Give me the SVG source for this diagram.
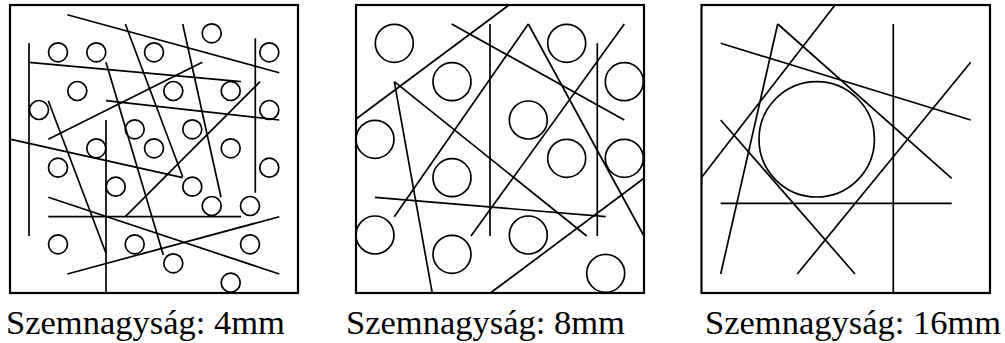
<svg xmlns="http://www.w3.org/2000/svg" width="1005" height="343" viewBox="0 0 1005 343">
<style>
.box{fill:none;stroke:#000;stroke-width:2.2}
line{stroke:#000;stroke-width:1.7;stroke-linecap:butt}
circle{fill:none;stroke:#000;stroke-width:1.7}
text{font-family:"Liberation Serif","Times New Roman",serif;font-size:34.5px;fill:#000}
</style>
<rect width="1005" height="343" fill="#fff"/>
<g id="panel1">
<rect class="box" x="10" y="5" width="288" height="288"/>
<g id="panel1-circles">
<circle cx="211.7" cy="33.3" r="9.5"/>
<circle cx="58" cy="52.3" r="9.5"/>
<circle cx="96.3" cy="52.3" r="9.5"/>
<circle cx="154" cy="52.3" r="9.5"/>
<circle cx="269.3" cy="52.3" r="9.5"/>
<circle cx="77.3" cy="91" r="9.5"/>
<circle cx="173.3" cy="91" r="9.5"/>
<circle cx="230.7" cy="91" r="9.5"/>
<circle cx="39" cy="110" r="9.5"/>
<circle cx="269.3" cy="110" r="9.5"/>
<circle cx="134.7" cy="129.3" r="9.5"/>
<circle cx="192.3" cy="129.3" r="9.5"/>
<circle cx="96.3" cy="148.3" r="9.5"/>
<circle cx="154" cy="148.3" r="9.5"/>
<circle cx="230.7" cy="148.3" r="9.5"/>
<circle cx="58" cy="167.7" r="9.5"/>
<circle cx="269.3" cy="167.7" r="9.5"/>
<circle cx="115.7" cy="186.7" r="9.5"/>
<circle cx="192.3" cy="186.7" r="9.5"/>
<circle cx="211.7" cy="206" r="9.5"/>
<circle cx="250" cy="206" r="9.5"/>
<circle cx="58" cy="244.3" r="9.5"/>
<circle cx="134.7" cy="244.3" r="9.5"/>
<circle cx="250" cy="244.3" r="9.5"/>
<circle cx="173.3" cy="263.3" r="9.5"/>
<circle cx="230.7" cy="282.7" r="9.5"/>
</g>
<g id="panel1-lines">
<line x1="67.3" y1="14.7" x2="279.3" y2="72.7"/>
<line x1="125.3" y1="24" x2="182.7" y2="176.7"/>
<line x1="182.7" y1="24" x2="221" y2="197.3"/>
<line x1="255.3" y1="38.3" x2="255.3" y2="192.7"/>
<line x1="29" y1="43.3" x2="29" y2="236"/>
<line x1="29" y1="62.3" x2="241" y2="81.7"/>
<line x1="106" y1="62.3" x2="163.3" y2="255"/>
<line x1="202.3" y1="62.3" x2="48.3" y2="139.3"/>
<line x1="260" y1="81.7" x2="125.3" y2="216.7"/>
<line x1="106" y1="100.7" x2="279.3" y2="120"/>
<line x1="48.3" y1="100.7" x2="106" y2="253.3"/>
<line x1="106" y1="120" x2="106" y2="293"/>
<line x1="11" y1="139.3" x2="182.7" y2="177.7"/>
<line x1="48.3" y1="197.3" x2="279.3" y2="274"/>
<line x1="48.3" y1="216.7" x2="241" y2="216.7"/>
<line x1="67.3" y1="274" x2="279.3" y2="216.7"/>
</g>
<text x="6" y="333.5">Szemnagyság: 4mm</text>
</g>
<g id="panel2">
<rect class="box" x="356" y="5" width="288" height="288"/>
<g id="panel2-circles">
<circle cx="394.3" cy="43.3" r="19"/>
<circle cx="566.7" cy="43.3" r="19"/>
<circle cx="452" cy="81.7" r="19"/>
<circle cx="624.3" cy="81.7" r="19"/>
<circle cx="528.3" cy="120" r="19"/>
<circle cx="375" cy="139.3" r="19"/>
<circle cx="566.7" cy="158.3" r="19"/>
<circle cx="624.3" cy="158.3" r="19"/>
<circle cx="452" cy="177.7" r="19"/>
<circle cx="375" cy="235" r="19"/>
<circle cx="528.3" cy="235" r="19"/>
<circle cx="452" cy="254.3" r="19"/>
<circle cx="605.7" cy="273.3" r="19"/>
</g>
<g id="panel2-lines">
<line x1="355.7" y1="119.3" x2="509" y2="5"/>
<line x1="451.7" y1="24" x2="624.3" y2="120"/>
<line x1="490" y1="24" x2="490" y2="236"/>
<line x1="528.3" y1="24" x2="394.3" y2="216.7"/>
<line x1="528.3" y1="24" x2="644" y2="236"/>
<line x1="624.3" y1="24" x2="471" y2="236"/>
<line x1="597.3" y1="43.3" x2="597.3" y2="236"/>
<line x1="394.3" y1="81.7" x2="432.3" y2="293.3"/>
<line x1="394.3" y1="81.7" x2="586.7" y2="236"/>
<line x1="375" y1="197.3" x2="605.7" y2="216.7"/>
<line x1="644" y1="178.3" x2="490" y2="293.3"/>
</g>
<text x="346" y="333.5">Szemnagyság: 8mm</text>
</g>
<g id="panel3">
<rect class="box" x="701.5" y="5" width="288.5" height="288"/>
<circle cx="816.7" cy="139.3" r="57.7"/>
<g id="panel3-lines">
<line x1="835" y1="5" x2="701.3" y2="177.7"/>
<line x1="777.7" y1="24" x2="720.7" y2="274"/>
<line x1="777.7" y1="24" x2="951.7" y2="178.3"/>
<line x1="720.7" y1="43.3" x2="970.7" y2="120"/>
<line x1="893.3" y1="24" x2="893.3" y2="293.3"/>
<line x1="970.7" y1="62.3" x2="797.3" y2="274"/>
<line x1="720.7" y1="120" x2="855" y2="274"/>
<line x1="720.7" y1="203.3" x2="951.7" y2="203.3"/>
</g>
<text x="705" y="333.5">Szemnagyság: 16mm</text>
</g>
</svg>
